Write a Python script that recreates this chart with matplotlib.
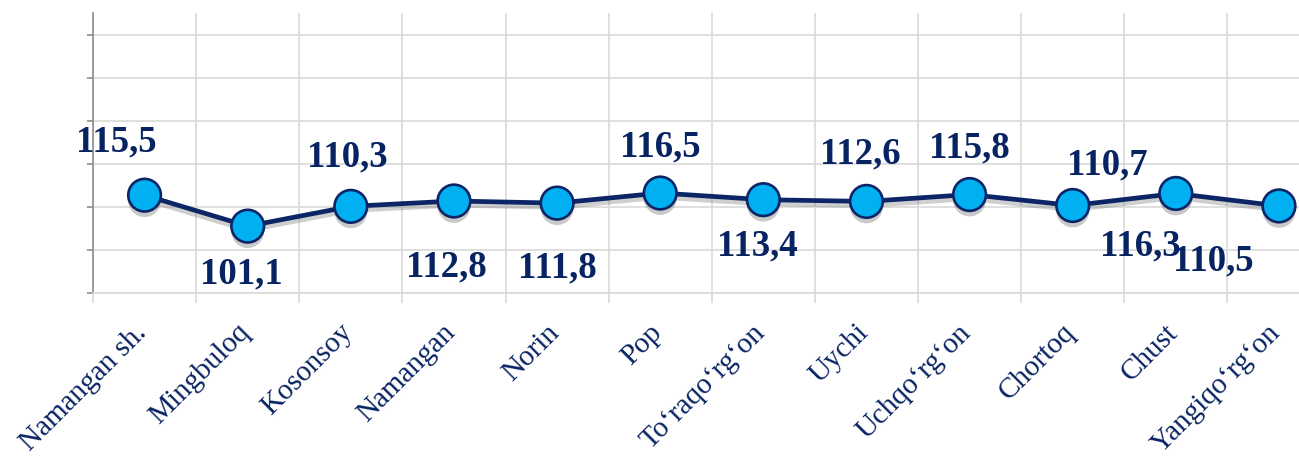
import matplotlib
matplotlib.use("Agg")
import matplotlib.pyplot as plt
import matplotlib.patheffects as pe
from matplotlib.transforms import ScaledTranslation

categories = ["Namangan sh.", "Mingbuloq", "Kosonsoy", "Namangan", "Norin", "Pop",
              "To\u2018raqo\u2018rg\u2018on", "Uychi", "Uchqo\u2018rg\u2018on", "Chortoq",
              "Chust", "Yangiqo\u2018rg\u2018on"]
values = [115.5, 101.1, 110.3, 112.8, 111.8, 116.5, 113.4, 112.6, 115.8, 110.7, 116.3, 110.5]
value_labels = ["115,5", "101,1", "110,3", "112,8", "111,8", "116,5", "113,4", "112,6",
                "115,8", "110,7", "116,3", "110,5"]
y_ticks = [70, 90, 110, 130, 150, 170, 190]

# label offsets in pixels (layout)
label_offsets = [(-28, 53), (-6, -48), (-4, 49), (-8, -66), (0, -65), (0, 46),
                 (-6, -46), (-6, 47), (0, 47), (35, 41), (-36, -53), (-66, -55)]

NAVY = "#0b2566"
TEXT = "#072362"
FILL = "#00b0f0"
GRID = "#d9d9d9"

W, H = 1299, 461
fig = plt.figure(figsize=(W / 100, H / 100), dpi=100)
left_px, right_px, bottom_px, top_px = 93, 1299, 293, 13.5
ax = fig.add_axes([left_px / W, (H - bottom_px) / H, (right_px - left_px) / W, (bottom_px - top_px) / H])

n = len(categories)
x = list(range(n))
ax.set_xlim(-0.5, 11 + 20 / 103)
ax.set_ylim(70, 200)

# grid
ax.set_yticks(y_ticks)
ax.set_yticklabels([])
ax.set_xticks([i + 0.5 for i in range(-1, n - 1)], minor=True)
ax.set_xticks(x)
ax.grid(True, which="major", axis="y", color=GRID, lw=1.2, zorder=0)
ax.grid(True, which="minor", axis="x", color=GRID, lw=1.2, zorder=0)
ax.set_axisbelow(True)

for s in ["top", "right"]:
    ax.spines[s].set_visible(False)
ax.spines["left"].set_color("#8c8c8c")
ax.spines["left"].set_linewidth(1.2)
ax.spines["bottom"].set_color(GRID)
ax.spines["bottom"].set_linewidth(1.2)

ax.tick_params(axis="y", which="major", direction="out", length=4, width=1.2, color="#8c8c8c")
ax.tick_params(axis="x", which="minor", direction="out", length=7, width=1.2, color=GRID)
ax.tick_params(axis="x", which="major", length=0, pad=19)

ax.set_xticklabels(categories, rotation=45, ha="right", va="top",
                   fontfamily=["Liberation Serif", "DejaVu Serif"], fontsize=21, color=TEXT)
for lab in ax.get_xticklabels():
    lab.set_transform(lab.get_transform() + ScaledTranslation(7 / 100, 0, fig.dpi_scale_trans))

# line with shadow
ax.plot(x, values, color=NAVY, lw=3.4, zorder=3, solid_capstyle="round",
        path_effects=[pe.SimpleLineShadow(offset=(0, -3), shadow_color="#777777", alpha=0.35),
                      pe.Normal()])
ax.plot(x, values, linestyle="none", marker="o", markersize=23.5, markerfacecolor=FILL,
        markeredgecolor=NAVY, markeredgewidth=1.9, zorder=4,
        path_effects=[pe.SimplePatchShadow(offset=(0, -4), shadow_rgbFace="#666666", alpha=0.35),
                      pe.Normal()])

for xi, v, lab, (dx, dy) in zip(x, values, value_labels, label_offsets):
    ax.annotate(lab, (xi, v), xytext=(dx, dy), textcoords="offset pixels",
                ha="center", va="center", fontsize=26.5, fontweight="bold",
                fontfamily=["Liberation Serif", "DejaVu Serif"], color=TEXT, zorder=5,
                annotation_clip=False)

fig.savefig("out.png", dpi=100)
